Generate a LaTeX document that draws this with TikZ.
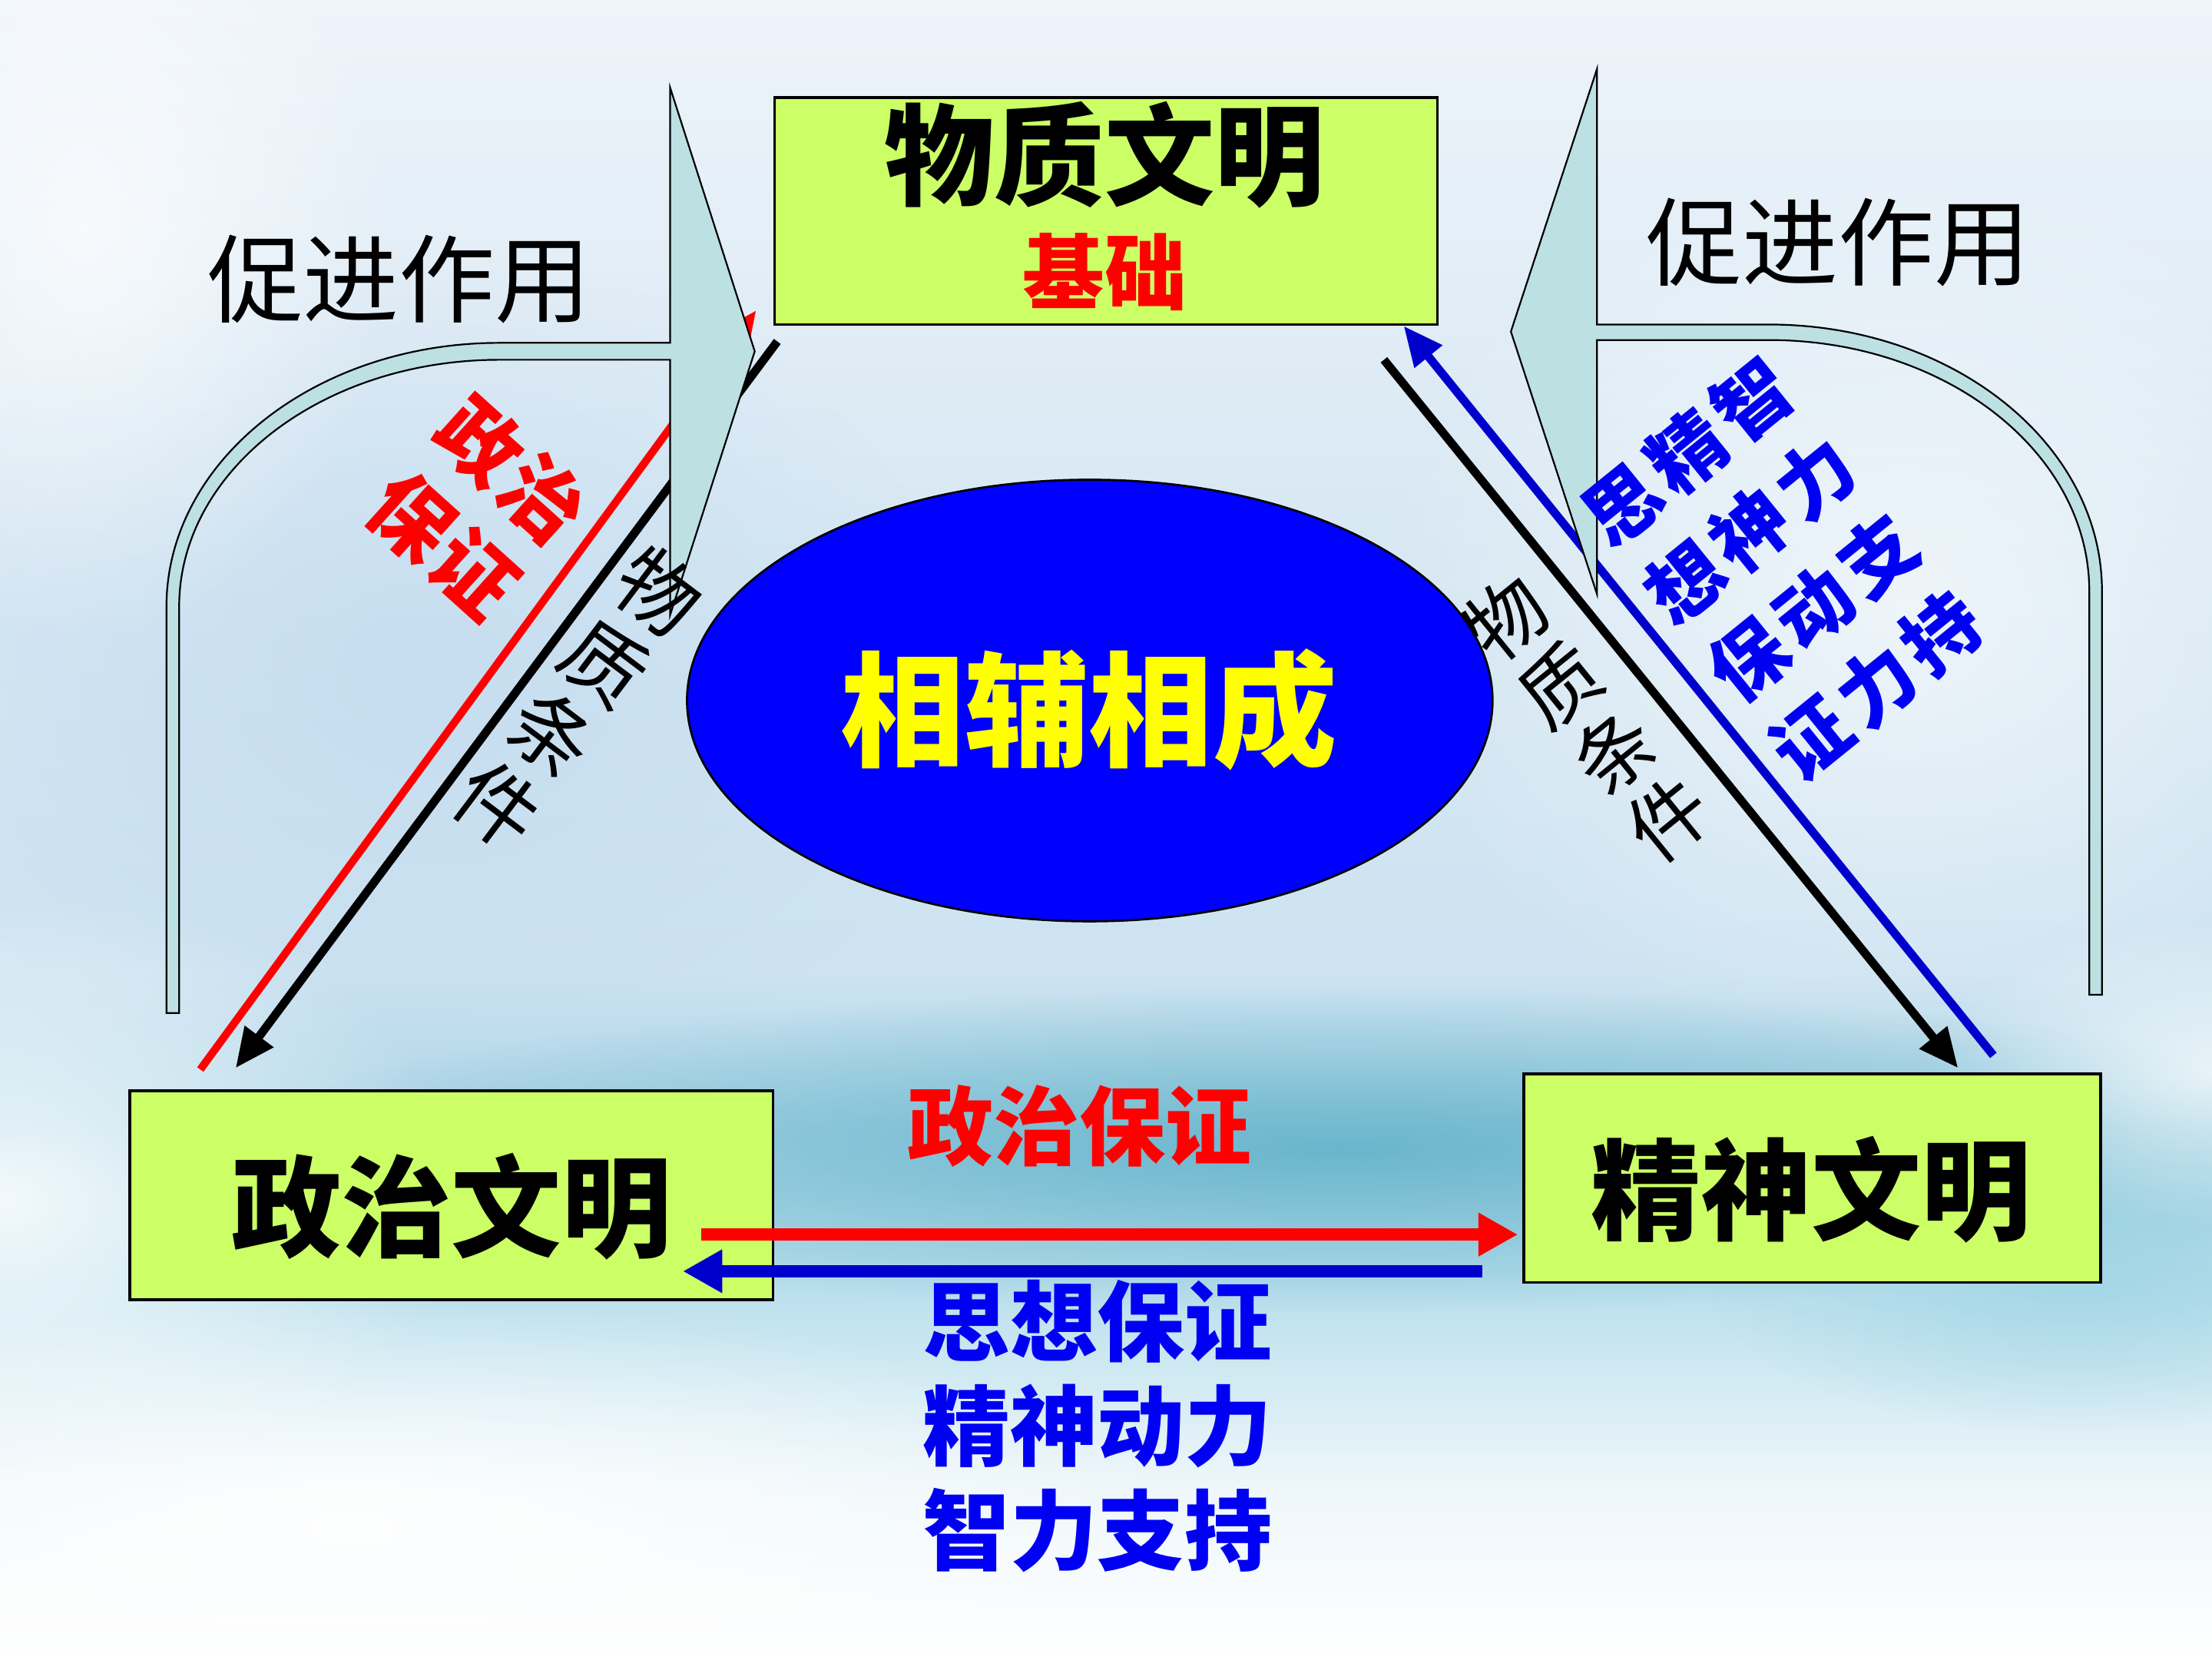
\documentclass[tikz,border=0pt]{standalone}
\usepackage{fontspec}
\newfontfamily\cjk{Noto Sans CJK SC}
\usetikzlibrary{arrows.meta,fadings,shapes.geometric}
\definecolor{boxfill}{HTML}{CCFF66}
\definecolor{callfill}{HTML}{BDE0E3}
\definecolor{barblue}{HTML}{0000CC}
\definecolor{txtblue}{HTML}{0000F2}
\definecolor{ellblue}{HTML}{0000FF}
\definecolor{yel}{HTML}{FFFF00}
\definecolor{skyA}{HTML}{EEF4FA}
\definecolor{skyB}{HTML}{D6E7F3}
\definecolor{skyC}{HTML}{CDE3F1}
\definecolor{skyD}{HTML}{A9D5E6}
\definecolor{skyE}{HTML}{B5DDEB}
\definecolor{skyF}{HTML}{EDF6FA}
\definecolor{teal}{HTML}{5FB0C8}
\definecolor{tealL}{HTML}{9BD3E3}
\definecolor{blueL}{HTML}{BCD8EE}
\tikzfading[name=softblob, inner color=transparent!0, outer color=transparent!100]
\tikzset{
  civbox/.style={draw=black, line width=2pt, fill=boxfill, inner sep=0pt},
  tbig/.style={inner sep=0pt, font=\cjk\bfseries\fontsize{78}{78}\selectfont},
  tmid/.style={inner sep=0pt, font=\cjk\bfseries\fontsize{61}{74}\selectfont, align=center},
  tlight/.style={inner sep=0pt, font=\cjk\fontsize{68}{68}\selectfont},
  diagarrow/.style={line width=5.5pt, -{Triangle[length=28pt,width=24pt]}},
  bararrow/.style={line width=9pt, -{Triangle[length=28pt,width=29pt]}},
  callout/.style={draw=black, line width=1.2pt, fill=callfill, line join=miter},
  blob/.style={path fading=softblob}
}
\begin{document}
\begin{tikzpicture}[x=1pt,y=-1pt]
\useasboundingbox (0,0) rectangle (1568,1176);
% ---------- sky background ----------
\shade[top color=skyA, bottom color=skyB] (0,-1) rectangle (1568,401);
\shade[top color=skyB, bottom color=skyC] (0,400) rectangle (1568,691);
\shade[top color=skyC, bottom color=skyD] (0,690) rectangle (1568,801);
\shade[top color=skyD, bottom color=skyE] (0,800) rectangle (1568,901);
\shade[top color=skyE, bottom color=skyF] (0,900) rectangle (1568,1051);
\shade[top color=skyF, bottom color=white] (0,1050) rectangle (1568,1177);
\fill[blueL, fill opacity=0.6, blob] (300,480) ellipse [x radius=380, y radius=300];
\fill[white, fill opacity=0.6, blob] (1350,430) ellipse [x radius=380, y radius=320];
\fill[white, fill opacity=0.7, blob] (60,160) ellipse [x radius=220, y radius=300];
\fill[teal, fill opacity=0.85, blob] (950,815) ellipse [x radius=780, y radius=115];
\fill[tealL, fill opacity=0.7, blob] (1470,905) ellipse [x radius=260, y radius=110];
\fill[white, fill opacity=0.85, blob] (0,850) ellipse [x radius=330, y radius=220];
\fill[white, fill opacity=0.9, blob] (250,1080) ellipse [x radius=600, y radius=160];
\fill[white, fill opacity=0.7, blob] (1568,760) ellipse [x radius=200, y radius=110];
% ---------- boxes and ellipse ----------
\node[civbox, minimum width=470pt, minimum height=161pt] (wzbox) at (784,149.5) {};
\node[civbox, minimum width=456pt, minimum height=148pt] (zzbox) at (320,847) {};
\node[civbox, minimum width=409pt, minimum height=148pt] (jsbox) at (1284.5,835) {};
\node[ellipse, draw=black, line width=1.5pt, fill=ellblue, minimum width=571pt,
      minimum height=313pt, inner sep=0pt] (xf) at (772.5,496.5) {};
% ---------- connector end points ----------
\coordinate (rA) at (142,758);  \coordinate (rB) at (536,220);
\coordinate (kA) at (551,242);  \coordinate (kB) at (167,757);
\coordinate (kC) at (981,255);  \coordinate (kD) at (1388,757);
\coordinate (bC) at (1413,748); \coordinate (bD) at (995,231);
\coordinate (rE) at (497,875);  \coordinate (rF) at (1076,875);
\coordinate (bE) at (1051,901); \coordinate (bF) at (484,901);
% ---------- arrows ----------
\draw[diagarrow, red] (rA) -- (rB);
\draw[diagarrow, black, line width=6pt] (kA) -- (kB);
\draw[diagarrow, black, line width=6pt] (kC) -- (kD);
\draw[diagarrow, barblue, line width=6pt] (bC) -- (bD);
\draw[bararrow, red] (rE) -- (rF);
\draw[bararrow, barblue] (bE) -- (bF);
% ---------- callout arrows ----------
\draw[callout] (118,718) -- (118,430) .. controls (118,326.7) and (223.7,243) .. (354,243)
  -- (475,243) -- (475,62) -- (535,249) -- (475,436) -- (475,255) -- (354,255)
  .. controls (228.6,255) and (127,333.4) .. (127,430) -- (127,718) -- cycle;
\draw[callout] (1490,705) -- (1490,419) .. controls (1490,314.6) and (1384.3,230) .. (1254,230)
  -- (1132,230) -- (1132,49) -- (1071,235) -- (1132,421) -- (1132,241) -- (1254,241)
  .. controls (1379.4,241) and (1481,320.7) .. (1481,419) -- (1481,705) -- cycle;
% ---------- texts ----------
\node[tbig] (wzt) at (783,110) {物质文明};
\node[tbig, red, font=\cjk\bfseries\fontsize{58}{58}\selectfont] (wzj) at (783,193) {基础};
\node[tbig] (zzt) at (320,855) {政治文明};
\node[tbig] (jst) at (1284,843) {精神文明};
\node[tbig, yel, font=\cjk\bfseries\fontsize{88}{88}\selectfont] (xft) at (772,503) {相辅相成};
\node[tlight] (cjL) at (283,198) {促进作用};
\node[tlight] (cjR) at (1303,172) {促进作用};
\node[tmid, red] (zzbz) at (765,798) {政治保证};
\node[tmid, txtblue, font=\cjk\bfseries\fontsize{62}{74}\selectfont] (sxbz) at (778,1011)
  {思想保证\\精神动力\\智力支持};
\node[inner sep=0pt, red, rotate=-42, align=left,
      font=\cjk\bfseries\fontsize{58}{72}\selectfont] (zzL) at (338.5,360)
  {政\kern2pt 治\\保\kern2pt 证};
\node[inner sep=0pt, black, rotate=-37, align=center,
      font=\cjk\fontsize{58}{63}\selectfont] (wzL) at (410,495)
  {物\\质\\条\\件};
\node[inner sep=0pt, black, rotate=39, align=center,
      font=\cjk\fontsize{56}{61}\selectfont] (wzR) at (1125,509)
  {物\\质\\条\\件};
\node[inner sep=0pt, txtblue, rotate=39,
      font=\cjk\bfseries\fontsize{54}{71}\selectfont] (sxR) at (1267,408)
  {\begin{tabular}{@{}c@{\hspace{5pt}}c@{\hspace{5pt}}c@{}}
   思&精&智\\ 想&神&力\\ 保&动&支\\ 证&力&持
   \end{tabular}};
\end{tikzpicture}
\end{document}
